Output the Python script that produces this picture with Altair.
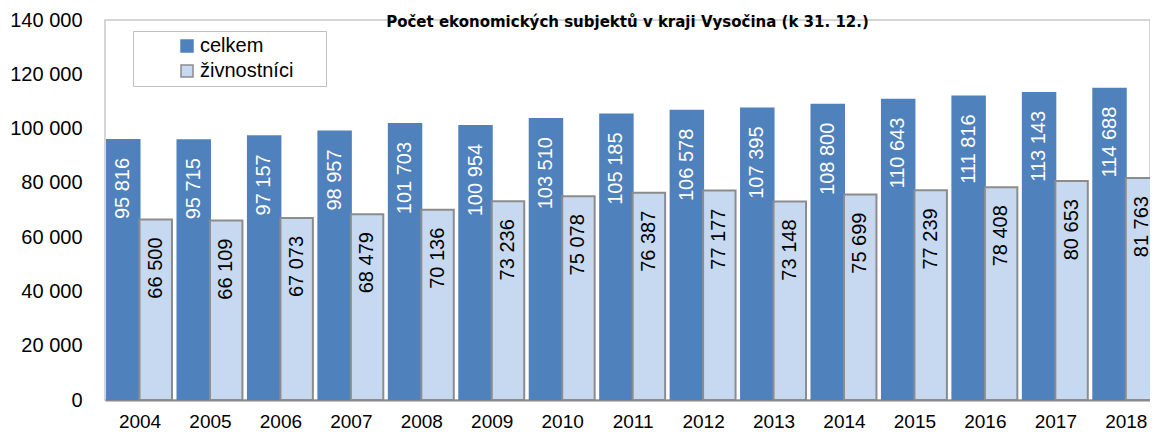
import altair as alt
import pandas as pd

years = list(range(2004, 2019))
celkem = [95816, 95715, 97157, 98957, 101703, 100954, 103510, 105185, 106578,
          107395, 108800, 110643, 111816, 113143, 114688]
zivnostnici = [66500, 66109, 67073, 68479, 70136, 73236, 75078, 76387, 77177,
               73148, 75699, 77239, 78408, 80653, 81763]
series = ["celkem", "živnostníci"]
y_ticks = [0, 20000, 40000, 60000, 80000, 100000, 120000, 140000]
title_text = "Počet ekonomických subjektů v kraji Vysočina (k 31. 12.)"

# layout parameters (in year units): bar width, x-domain of the plot
BAR = 0.461
X_DOMAIN = [2003.510, 2018.344]

rows = []
for i, y in enumerate(years):
    rows.append({"rok": y, "serie": series[0], "hodnota": celkem[i], "side": -1})
    rows.append({"rok": y, "serie": series[1], "hodnota": zivnostnici[i], "side": 0})
df = pd.DataFrame(rows)

FONT = "Liberation Sans"
DARK = "#4F81BD"
LIGHT = "#C6D9F1"

base = alt.Chart(df).transform_calculate(
    lbl="replace(format(datum.hodnota, ',d'), ',', ' ')",
    x0=f"datum.rok + datum.side * {BAR}",
    x1=f"datum.rok + (datum.side + 1) * {BAR}",
    xc=f"datum.rok + (datum.side + 0.5) * {BAR}",
)

x_scale = alt.Scale(domain=X_DOMAIN, nice=False, zero=False)
x_enc = alt.X("x0:Q", scale=x_scale,
              axis=alt.Axis(title=None, values=years, format="d", labelAngle=0,
                            ticks=False, grid=False, domain=True,
                            domainColor="#898989", domainWidth=2, labelPadding=12,
                            labelFont=FONT, labelFontSize=19, labelColor="#000000",
                            labelFlush=False, labelOverlap=False))
y_enc = alt.Y("hodnota:Q",
              scale=alt.Scale(domain=[0, 140000], nice=False),
              axis=alt.Axis(title=None, values=y_ticks, ticks=False, domain=False,
                            grid=False, labelPadding=23, labelFont=FONT,
                            labelFontSize=20, labelColor="#000000",
                            labelExpr="replace(format(datum.value, ',d'), ',', ' ')"))

bars = base.mark_bar(strokeWidth=2, clip=True).encode(
    x=x_enc, x2="x1:Q", y=y_enc, y2=alt.datum(0),
    fill=alt.Fill("serie:N", sort=series,
                  scale=alt.Scale(domain=series, range=[DARK, LIGHT]),
                  legend=alt.Legend(title=".", titleOrient="right", titleOpacity=0,
                                    titleFontSize=2, titlePadding=27,
                                    orient="none", legendX=28, legendY=11,
                                    strokeColor="#BFBFBF", padding=5,
                                    symbolOffset=39, symbolType="square",
                                    symbolSize=144, symbolStrokeWidth=1.5,
                                    labelFont=FONT, labelFontSize=20,
                                    labelColor="#000000", rowPadding=5, labelOffset=3)),
    stroke=alt.Stroke("serie:N", sort=series,
                      scale=alt.Scale(domain=series, range=[DARK, "#8C8C8C"]),
                      legend=None),
)

labels = base.mark_text(angle=270, align="right", baseline="middle", dx=-18,
                        font=FONT, fontSize=20, clip=True).encode(
    x=alt.X("xc:Q"), y="hodnota:Q",
    text="lbl:N",
    color=alt.Color("serie:N", sort=series,
                    scale=alt.Scale(domain=series, range=["#FFFFFF", "#000000"]),
                    legend=None),
)

chart = alt.layer(bars, labels).resolve_scale(color="independent").properties(
    width=1045, height=380,
    title=alt.TitleParams(title_text, font="DejaVu Sans", fontSize=15, fontWeight="bold",
                          color="#000000", frame="group", anchor="middle",
                          baseline="alphabetic", offset=5, dy=36.5),
    padding={"left": 97, "top": 12, "right": 0, "bottom": 31},
    autosize=alt.AutoSizeParams(type="none"),
).configure_view(stroke="#C8C8C8", strokeWidth=1.5)

chart.save("out.html", embed_options={"renderer": "svg", "actions": False})
